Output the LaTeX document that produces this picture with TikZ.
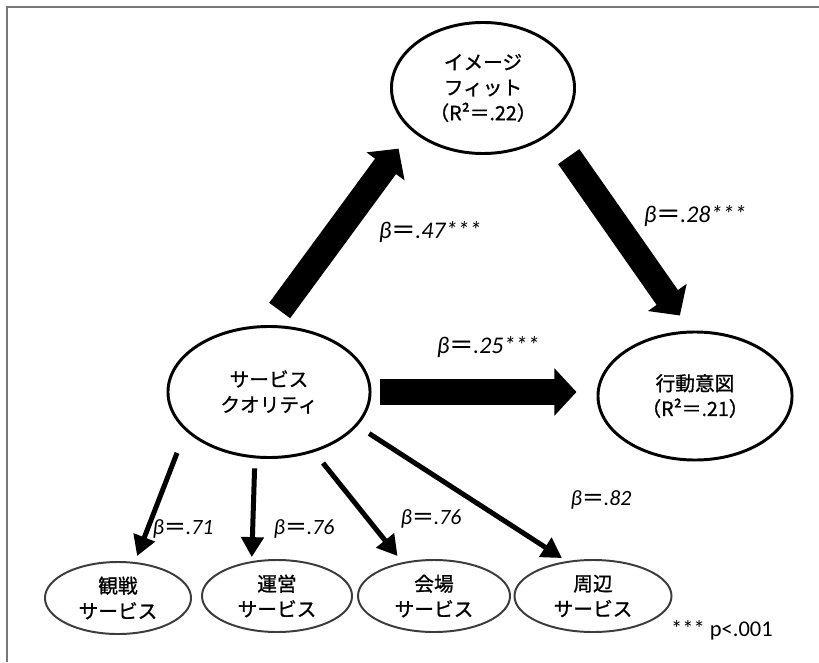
\documentclass[tikz,border=0pt]{standalone}
\usepackage{fontspec}
\setmainfont{Carlito}
\newfontfamily\cjk{Noto Sans CJK JP}[FakeBold=1]
\usetikzlibrary{arrows.meta,shapes.geometric,positioning}
\definecolor{framegray}{RGB}{120,120,120}
\definecolor{rimgray}{RGB}{60,60,60}

\begin{document}
\begin{tikzpicture}[x=0.025cm, y=-0.025cm,
    jp/.style={font=\cjk\fontsize{14}{18}\selectfont, align=center},
    bigellipse/.style={ellipse, draw, line width=2.1pt, inner sep=0pt, jp},
    smallellipse/.style={ellipse, draw=rimgray, line width=1.4pt, inner sep=0pt, minimum width=3.8cm, minimum height=1.8cm, jp},
    bigarrow/.style={line width=0.65cm, -{Triangle[width=1.15cm,length=0.55cm]}},
    thinarrow/.style={line width=0.125cm, -{Triangle[width=0.55cm,length=0.5cm]}},
    coef/.style={font=\fontsize{17}{19}\selectfont\itshape},
    coefsmall/.style={font=\fontsize{15.5}{18}\selectfont\itshape}]

    \useasboundingbox (0,0) rectangle (819,662);
    \draw[framegray, line width=1.4pt] (7,662) -- (7,7) -- (819,7);

    % latent variables
    \node[bigellipse, minimum width=4.575cm, minimum height=3.275cm] (imagefit) at (483,88) {イメージ\\フィット\\（R²＝.22）};
    \node[bigellipse, minimum width=5.05cm, minimum height=3.275cm] (sq) at (269,392) {サービス\\クオリティ};
    \node[bigellipse, minimum width=4.85cm, minimum height=3.2cm] (intent) at (695,396) {行動意図\\（R²＝.21）};

    % service dimensions
    \node[smallellipse, minimum width=3.65cm] (kansen) at (118,598) {観戦\\サービス};
    \node[smallellipse, minimum width=3.75cm] (unei) at (277,596) {運営\\サービス};
    \node[smallellipse] (kaijo) at (434,596) {会場\\サービス};
    \node[smallellipse, minimum width=3.925cm] (shuhen) at (593,596) {周辺\\サービス};

    \draw[bigarrow, shorten <=0.45cm, shorten >=0.55cm] (sq.north) -- (imagefit.211);
    \draw[bigarrow, shorten <=0.725cm, shorten >=0.46cm] (imagefit.327) -- (intent.94);
    \draw[bigarrow, shorten <=0.2cm, shorten >=0.5cm] (sq.east) -- (sq.east -| intent.west);

    \draw[thinarrow, shorten <=0.59cm, shorten >=0.16cm] (sq.205) -- (kansen.65);
    \draw[thinarrow, shorten <=0.25cm, shorten >=0.1cm] (sq.258) -- (unei.126);
    \draw[thinarrow, shorten <=0.35cm, shorten >=0.2cm] (sq.307) -- (kaijo.133);
    \draw[thinarrow, shorten <=0.35cm, shorten >=0.14cm] (sq.339) -- (shuhen.127);

    % path coefficients
    \node[coef] (b47) at (430,232) {β{\cjk ＝}.47***};
    \node[coef] (b28) at (695,216) {β{\cjk ＝}.28***};
    \node[coef] (b25) at (488,347) {β{\cjk ＝}.25***};
    \node[coefsmall] (b71) at (183,529) {β{\cjk ＝}.71};
    \node[coefsmall] (b76a) at (304,529) {β{\cjk ＝}.76};
    \node[coefsmall] (b76b) at (431,519) {β{\cjk ＝}.76};
    \node[coefsmall] (b82) at (601,500) {β{\cjk ＝}.82};

    \node[font=\fontsize{16}{18}\selectfont] (note) at (722,630) {*** p<.001};
\end{tikzpicture}
\end{document}
